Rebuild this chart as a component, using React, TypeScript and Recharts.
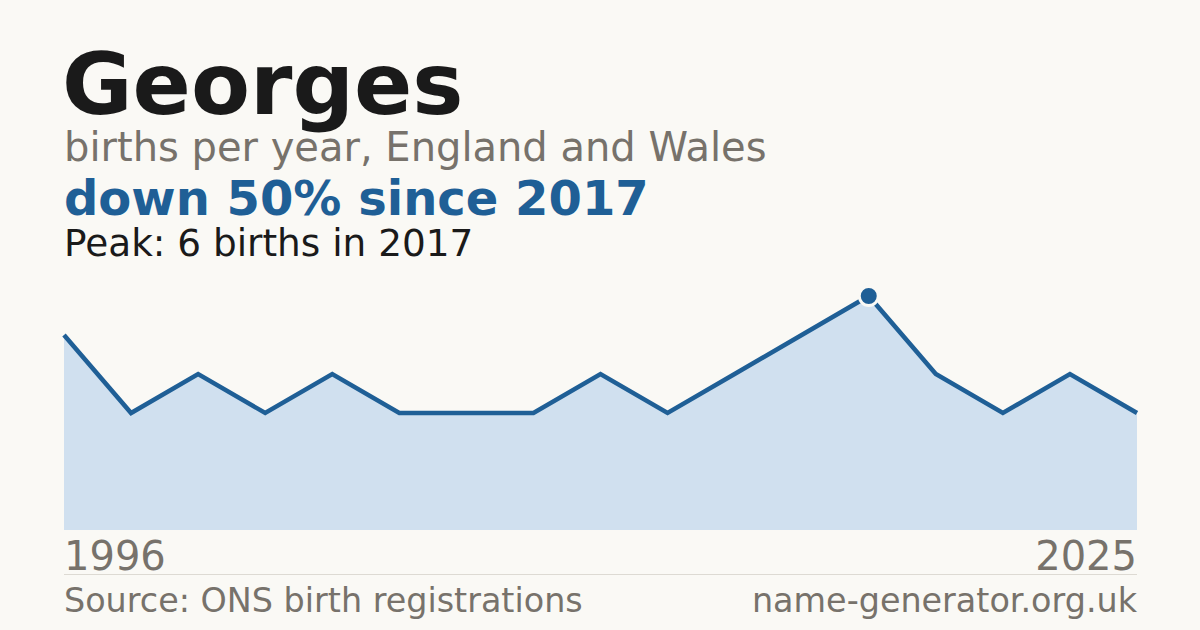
import { Area, AreaChart, XAxis, YAxis } from 'recharts'

// years with a published count (ONS suppresses counts under 3)
const years = [1996, 1998, 1999, 2001, 2003, 2004, 2006, 2008, 2009, 2011, 2013, 2015, 2017, 2019, 2021, 2023, 2025]
const births = [5, 3, 4, 3, 4, 3, 3, 3, 4, 3, 4, 5, 6, 4, 3, 4, 3]

const data = years.map((year, i) => ({ year, births: births[i] }))

const peak = Math.max(...births)
const peakIndex = births.indexOf(peak)
const peakYear = years[peakIndex]
const latest = births[births.length - 1]
const change = Math.round(((peak - latest) / peak) * 100)

const BLUE = '#1f5f96'
const GREY = '#77726b'
const BG = '#faf9f5'
const FONT = '"DejaVu Sans", Verdana, sans-serif'

const PeakDot = (props: any) => {
  const { cx, cy, index } = props
  if (index !== peakIndex) return <g key={`d-${index}`} />
  return <circle key={`d-${index}`} cx={cx} cy={cy} r={9.5} fill={BLUE} stroke={BG} strokeWidth={3} />
}

// tight line boxes so the stacked headings don't overlap
const line = (fontSize: number) => ({ fontSize, lineHeight: 0.85 })

const App = () => {
  return (
    <div
      style={{
        position: 'absolute',
        left: 0,
        top: 0,
        width: 1200,
        height: 630,
        background: BG,
        fontFamily: FONT,
        overflow: 'hidden',
      }}
    >
      <div style={{ position: 'absolute', left: 62, top: 47.5, fontWeight: 700, color: '#1a1a1a', ...line(86) }}>
        Georges
      </div>
      <div style={{ position: 'absolute', left: 64, top: 130, color: GREY, ...line(40) }}>
        births per year, England and Wales
      </div>
      <div style={{ position: 'absolute', left: 64, top: 177.6, fontWeight: 700, color: BLUE, ...line(48) }}>
        down {change}% since {peakYear}
      </div>
      <div style={{ position: 'absolute', left: 64, top: 227.8, color: '#1a1a1a', ...line(37.4) }}>
        Peak: {peak} births in {peakYear}
      </div>

      <div style={{ position: 'absolute', left: 54, top: 286 }}>
        <AreaChart width={1093} height={254} data={data} margin={{ top: 10, right: 10, bottom: 10, left: 10 }}>
          <XAxis dataKey="year" hide />
          <YAxis domain={[0, peak]} hide />
          <Area
            type="linear"
            dataKey="births"
            stroke={BLUE}
            strokeWidth={4.5}
            fill="#d0e0ef"
            fillOpacity={1}
            dot={PeakDot}
            activeDot={false}
            isAnimationActive={false}
          />
        </AreaChart>
      </div>

      <div style={{ position: 'absolute', left: 64, top: 539, color: GREY, ...line(40) }}>
        {years[0]}
      </div>
      <div style={{ position: 'absolute', right: 63, top: 539, color: GREY, ...line(40) }}>
        {years[years.length - 1]}
      </div>
      <div style={{ position: 'absolute', left: 64, top: 574, width: 1073, height: 1, background: '#dddad3' }} />
      <div style={{ position: 'absolute', left: 64, top: 586.5, color: GREY, ...line(33.4) }}>
        Source: ONS birth registrations
      </div>
      <div style={{ position: 'absolute', right: 63, top: 586.5, color: GREY, ...line(33.4) }}>
        name-generator.org.uk
      </div>
    </div>
  )
}

export default App
